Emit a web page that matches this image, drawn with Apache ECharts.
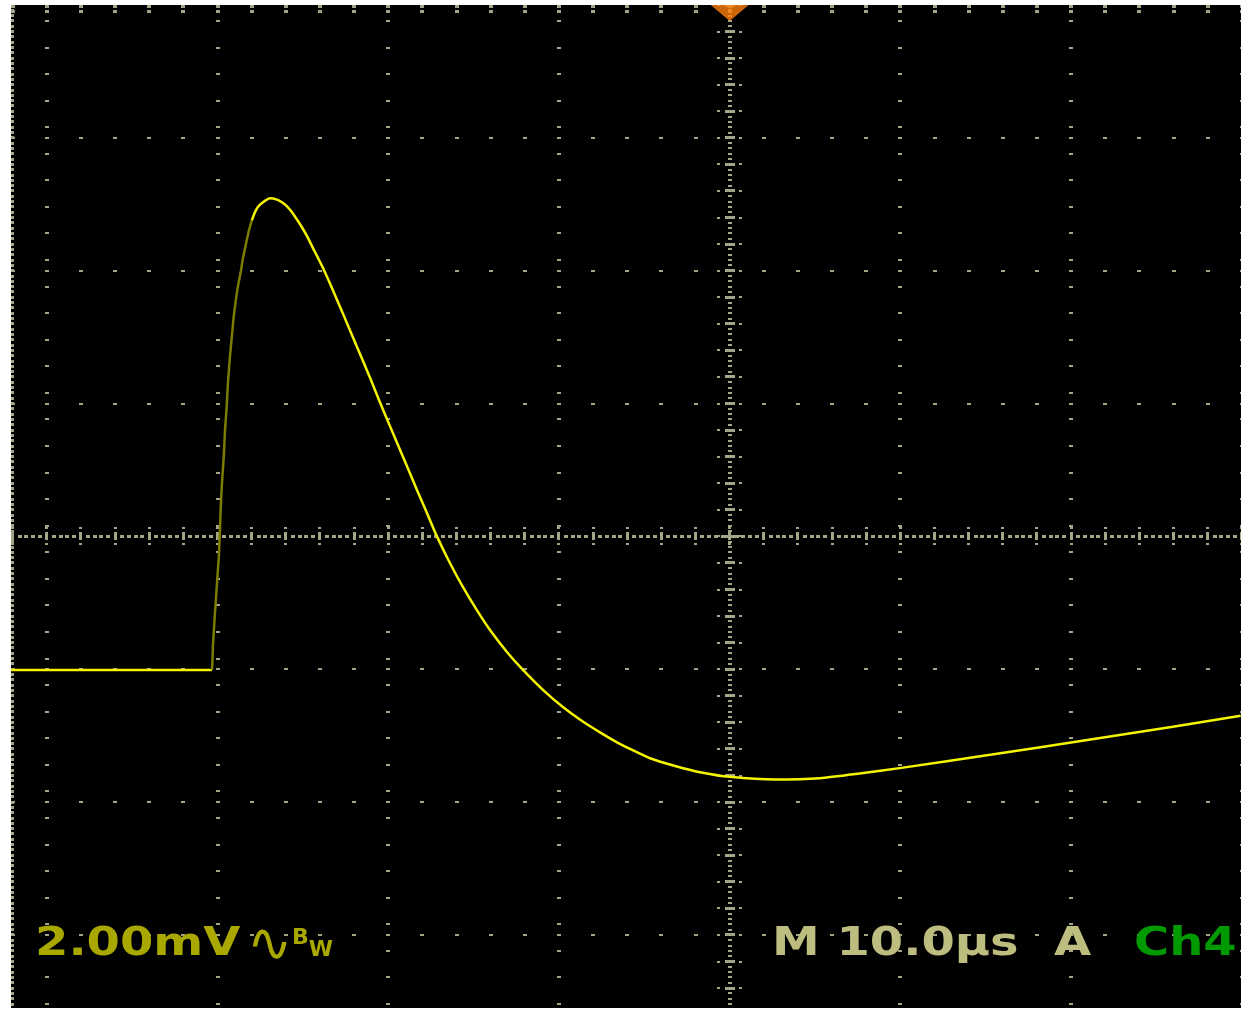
<!DOCTYPE html>
<html>
<head>
<meta charset="utf-8">
<script src="https://cdn.jsdelivr.net/npm/echarts@6/dist/echarts.min.js"></script>
<style>
html,body{margin:0;padding:0;background:#ffffff;}
#chart{width:1245px;height:1009px;}
</style>
</head>
<body>
<div id="chart"></div>
<script>
// ---- Trace data: time in µs (trigger at 0), voltage in mV (screen centre = 0) ----
const baseTime  = [-42.1, -38.0, -34.5, -30.33];
const baseVolt  = [-2.01, -2.01, -2.01, -2.01];
const riseTime  = [-30.33, -30.30, -30.27, -30.16, -30.04, -29.92, -29.86, -29.81, -29.75, -29.63, -29.57, -29.46, -29.40, -29.28, -29.16, -29.05, -28.93, -28.81, -28.63, -28.52, -28.34, -28.17, -27.99];
const riseVolt  = [-2.01, -1.89, -1.64, -1.18, -0.73, -0.28, 0.10, 0.47, 0.77, 1.23, 1.57, 1.98, 2.28, 2.69, 3.02, 3.32, 3.56, 3.76, 4.00, 4.18, 4.40, 4.60, 4.76];
const decayTime = [-27.99, -27.81, -27.64, -27.34, -26.93, -26.52, -26.23, -25.93, -25.64, -25.35, -25.05, -24.76, -24.47, -23.88, -23.30, -22.65, -21.83, -21.07, -20.49, -19.90, -19.14, -18.32, -17.73, -17.15, -16.39, -15.63, -14.81, -14.04, -13.05, -12.11, -10.94, -9.77, -8.65, -7.60, -6.60, -5.84, -4.67, -3.15, -1.74, 0.02, 2.65, 5.29, 7.60, 10.06, 15.36, 20.66, 25.96, 29.93];
const decayVolt = [4.76, 4.88, 4.96, 5.03, 5.09, 5.07, 5.03, 4.97, 4.88, 4.77, 4.65, 4.52, 4.37, 4.07, 3.74, 3.35, 2.85, 2.39, 2.02, 1.66, 1.20, 0.70, 0.35, 0.00, -0.40, -0.76, -1.11, -1.41, -1.74, -2.01, -2.31, -2.57, -2.78, -2.95, -3.10, -3.20, -3.34, -3.46, -3.55, -3.62, -3.66, -3.64, -3.57, -3.485, -3.285, -3.075, -2.865, -2.70];

// ---- Graticule (10 µs/div, 2 mV/div) ----
const majorTimes = [-40, -30, -20, -10, 0, 10, 20, 30];
const majorVolts = [-6, -4, -2, 0, 2, 4, 6, 8];
const triggerTime = [0];

// ---- Labels ----
const scaleLabel = '2.00mV';
const bwSymbol = '∿';
const bwLabel = '{b|B}{w|W}';
const timeLabel = 'M 10.0µs';
const trigLabel = 'A';
const chanLabel = 'Ch4';

const X_MIN = -42.1, X_MAX = 29.95, Y_MIN = -7.1, Y_MAX = 8.0;
const GRID_COLOR = '#a4a487';

function zip(a, b) { return a.map((v, i) => [v, b[i]]); }

// graticule marks: [t, v, w, h, dx, dy]
const grat = [];
const tStep = 0.4, vStep = 0.08;
for (const t of majorTimes) {
  if (t === 0) continue;
  for (let j = -88; j <= 100; j += 5) {
    const v = +(j * vStep).toFixed(2);
    if (v === 0) continue;
    grat.push([t, v, 4, 2, 0, 0]);
  }
}
for (const v of majorVolts) {
  if (v === 0) continue;
  for (let k = -105; k <= 75; k += 5) {
    grat.push([+(k * tStep).toFixed(2), v, 4, 2, 0, 0]);
  }
}
for (let k = -105; k <= 75; k++) {
  const t = +(k * tStep).toFixed(2);
  if (k % 5 === 0) {
    grat.push([t, 0, 3, 8, 0, 0]);
    grat.push([t, 0, 3, 2, 0, -8]);
    grat.push([t, 0, 3, 2, 0, 8]);
  } else {
    grat.push([t, 0, 4, 3, 0, 0]);
  }
}
for (let j = -88; j <= 100; j++) {
  const v = +(j * vStep).toFixed(2);
  if (j % 5 === 0) {
    grat.push([0, v, 10, 3, 0, 0]);
    grat.push([0, v, 3, 2, -11, 0]);
    grat.push([0, v, 3, 2, 11, 0]);
  } else {
    grat.push([0, v, 4, 2, 0, 0]);
  }
}
for (let k = -105; k <= 75; k += 5) {
  const t = +(k * tStep).toFixed(2);
  grat.push([t, Y_MAX, 4, 3, 0, 1.5]);
  grat.push([t, Y_MAX, 4, 3, 0, 6.5]);
}
for (let j = -88; j <= 100; j++) {
  grat.push([X_MIN, +(j * vStep).toFixed(2), 3, 3, 1.5, 0]);
}

function renderGrat(params, api) {
  const p = api.coord([api.value(0), api.value(1)]);
  const w = api.value(2), h = api.value(3);
  return {
    type: 'rect',
    shape: { x: Math.round(p[0] + api.value(4) - w / 2), y: Math.round(p[1] + api.value(5) - h / 2), width: w, height: h },
    style: { fill: GRID_COLOR }
  };
}

const chart = echarts.init(document.getElementById('chart'), null, { renderer: 'canvas' });
const FONT = '"DejaVu Sans", sans-serif';
const option = {
  animation: false,
  backgroundColor: '#ffffff',
  grid: { left: 11, right: 4, top: 5, bottom: 1, show: true, backgroundColor: '#000000', borderWidth: 0 },
  xAxis: { type: 'value', min: X_MIN, max: X_MAX, show: false },
  yAxis: { type: 'value', min: Y_MIN, max: Y_MAX, show: false },
  series: [
    { type: 'custom', name: 'graticule', data: grat, renderItem: renderGrat, clip: true, silent: true, z: 1, encode: { x: 0, y: 1 } },
    { type: 'line', name: 'baseline', data: zip(baseTime, baseVolt), symbol: 'none', lineStyle: { color: '#f4f400', width: 2.5 }, z: 3, silent: true },
    { type: 'line', name: 'rise', data: zip(riseTime, riseVolt), symbol: 'none', lineStyle: { color: '#7c7c00', width: 2.5 }, z: 3, silent: true },
    { type: 'line', name: 'decay', data: zip(decayTime, decayVolt), symbol: 'none', smooth: 0.2, lineStyle: { color: '#f4f400', width: 2.5 }, z: 3, silent: true },
    { type: 'scatter', name: 'trigger', data: triggerTime.map(t => [t, Y_MAX]), symbol: 'triangle', symbolRotate: 180, symbolSize: [38, 16], symbolOffset: [0, 8], itemStyle: { color: '#ff7f0a' }, z: 5, silent: true }
  ],
  graphic: [
    { type: 'text', x: 35, y: 945, scaleX: 1.23, z: 10, style: { text: scaleLabel, fontFamily: FONT, fontWeight: 'bold', fontSize: 39, fill: '#a8a800', textVerticalAlign: 'middle', verticalAlign: 'middle' } },
    { type: 'text', x: 247, y: 947, scaleX: 1.5, scaleY: 1.5, z: 10, style: { text: bwSymbol, fontFamily: FONT, fontSize: 36, fill: '#a8a800', textVerticalAlign: 'middle', verticalAlign: 'middle' } },
    { type: 'text', x: 292, y: 944, z: 10, style: { text: bwLabel, fontFamily: FONT, fill: '#a8a800', textVerticalAlign: 'middle', verticalAlign: 'middle',
        rich: { b: { fontFamily: FONT, fontWeight: 'bold', fontSize: 22, fill: '#a8a800', color: '#a8a800', padding: [0, 0, 12, 0] }, w: { fontFamily: FONT, fontWeight: 'bold', fontSize: 22, fill: '#a8a800', color: '#a8a800', padding: [12, 0, 0, 0] } } } },
    { type: 'text', x: 772, y: 945, scaleX: 1.23, z: 10, style: { text: timeLabel, fontFamily: FONT, fontWeight: 'bold', fontSize: 39, fill: '#bdbd80', textVerticalAlign: 'middle', verticalAlign: 'middle' } },
    { type: 'text', x: 1054, y: 945, scaleX: 1.23, z: 10, style: { text: trigLabel, fontFamily: FONT, fontWeight: 'bold', fontSize: 39, fill: '#bdbd80', textVerticalAlign: 'middle', verticalAlign: 'middle' } },
    { type: 'text', x: 1134, y: 945, scaleX: 1.23, z: 10, style: { text: chanLabel, fontFamily: FONT, fontWeight: 'bold', fontSize: 39, fill: '#009a00', textVerticalAlign: 'middle', verticalAlign: 'middle' } }
  ]
};
chart.setOption(option);
</script>
</body>
</html>
